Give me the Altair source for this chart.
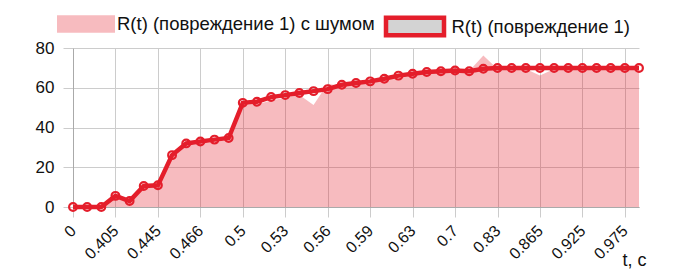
import altair as alt
import pandas as pd

# ---- data ----
x_tick_labels = ["0", "0.405", "0.445", "0.466", "0.5", "0.53", "0.56",
                 "0.59", "0.63", "0.7", "0.83", "0.865", "0.925", "0.975"]

r_clean = [0, 0, 0, 5.6, 3, 10.6, 10.9, 26.1, 32, 33, 33.9, 34.7,
           52.4, 53, 55.3, 56.3, 57.4, 58.3, 59.3, 61.5, 62.4, 63.2,
           64.5, 66.1, 67, 67.9, 68.3, 68.7, 68.3, 69.6, 69.9, 69.9,
           69.9, 69.9, 69.9, 69.9, 69.9, 69.9, 69.9, 69.9, 69.9]

r_noisy = [0, 0, 0, 4.8, 2.5, 9.8, 10.2, 25.2, 30.8, 31.8, 32.8, 33.6,
           51.2, 51.6, 53.6, 55, 56.3, 51.3, 62, 60.8, 61.6, 62.6,
           63.6, 65.2, 66.2, 67.2, 67.6, 68, 68.4, 76.2, 69.4, 69.4,
           69.4, 66.2, 69.4, 69.4, 69.4, 69.4, 69.4, 69.4, 69.4]

y_ticks = [0, 20, 40, 60, 80]

series_noisy = "R(t) (повреждение 1) с шумом"
series_clean = "R(t) (повреждение 1)"

RED = "#e41e2b"
FONT = "Liberation Sans"

n = len(r_clean)
step = 3
df = pd.DataFrame({
    "i": list(range(n)),
    "clean": r_clean,
    "noisy": r_noisy,
    "s_noisy": [series_noisy] * n,
    "s_clean": [series_clean] * n,
})

label_array = "[" + ",".join("'%s'" % l for l in x_tick_labels) + "]"

x_enc = alt.X(
    "i:Q",
    scale=alt.Scale(domain=[0, n - 1], nice=False, zero=False),
    axis=alt.Axis(
        values=[k * step for k in range(len(x_tick_labels))],
        labelExpr=label_array + "[round(datum.value/%d)]" % step,
        labelAngle=-45, labelAlign="right", labelBaseline="middle",
        labelPadding=11, tickSize=10, labelFontSize=16,
        title="t, c", titleX=573, titleY=58, titleAlign="right",
        titleBaseline="alphabetic", titleAngle=0,
        titleFontSize=18, titleFontWeight="normal",
    ),
)

y_scale = alt.Scale(domain=[0, 80], nice=False)
y_axis = alt.Axis(values=y_ticks, title=None, tickSize=10, labelPadding=9,
                  labelFontSize=17)

sym = "M-1,-0.3H1V0.3H-1Z"

area = alt.Chart(df).mark_area(fillOpacity=0.3, interpolate="linear").encode(
    x=x_enc,
    y=alt.Y("noisy:Q", scale=y_scale, axis=y_axis),
    fill=alt.Fill("s_noisy:N",
                  scale=alt.Scale(domain=[series_noisy], range=[RED]),
                  legend=alt.Legend(title=None, orient="none",
                                    legendX=-16, legendY=-53,
                                    symbolType=sym, symbolSize=3364,
                                    symbolStrokeWidth=0, symbolOpacity=0.3,
                                    labelFontSize=18.5, labelOffset=2,
                                    labelLimit=0, padding=0)),
)

line = alt.Chart(df).mark_line(strokeWidth=4.5, interpolate="linear").encode(
    x=x_enc,
    y=alt.Y("clean:Q", scale=y_scale, axis=y_axis),
    stroke=alt.Stroke("s_clean:N",
                      scale=alt.Scale(domain=[series_clean], range=[RED]),
                      legend=alt.Legend(title=None, orient="none",
                                        legendX=310.5, legendY=-53,
                                        symbolType=sym, symbolSize=3364,
                                        symbolFillColor="#d3d3d3",
                                        symbolStrokeWidth=4.5,
                                        labelFontSize=18.5, labelOffset=5,
                                        labelLimit=0, padding=0)),
)

pts = alt.Chart(df).mark_point(filled=False, size=60, strokeWidth=2.2,
                               color=RED, opacity=1).encode(
    x=x_enc,
    y=alt.Y("clean:Q", scale=y_scale, axis=y_axis),
)

chart = alt.layer(area, line, pts).resolve_scale(
    fill="independent", stroke="independent"
).properties(
    width=566, height=159,
    autosize=alt.AutoSizeParams(type="none"),
    padding={"left": 73, "top": 48, "right": 41, "bottom": 72},
    background="white",
).configure(font=FONT).configure_view(stroke=None).configure_axis(
    labelFont=FONT, titleFont=FONT, labelColor="#111", titleColor="#111",
    gridColor="#cccccc", gridWidth=1, domainColor="#aaaaaa",
    tickColor="#cccccc",
).configure_legend(labelFont=FONT, labelColor="#111")

chart.save("out.html", embed_options={"renderer": "svg", "actions": False})
